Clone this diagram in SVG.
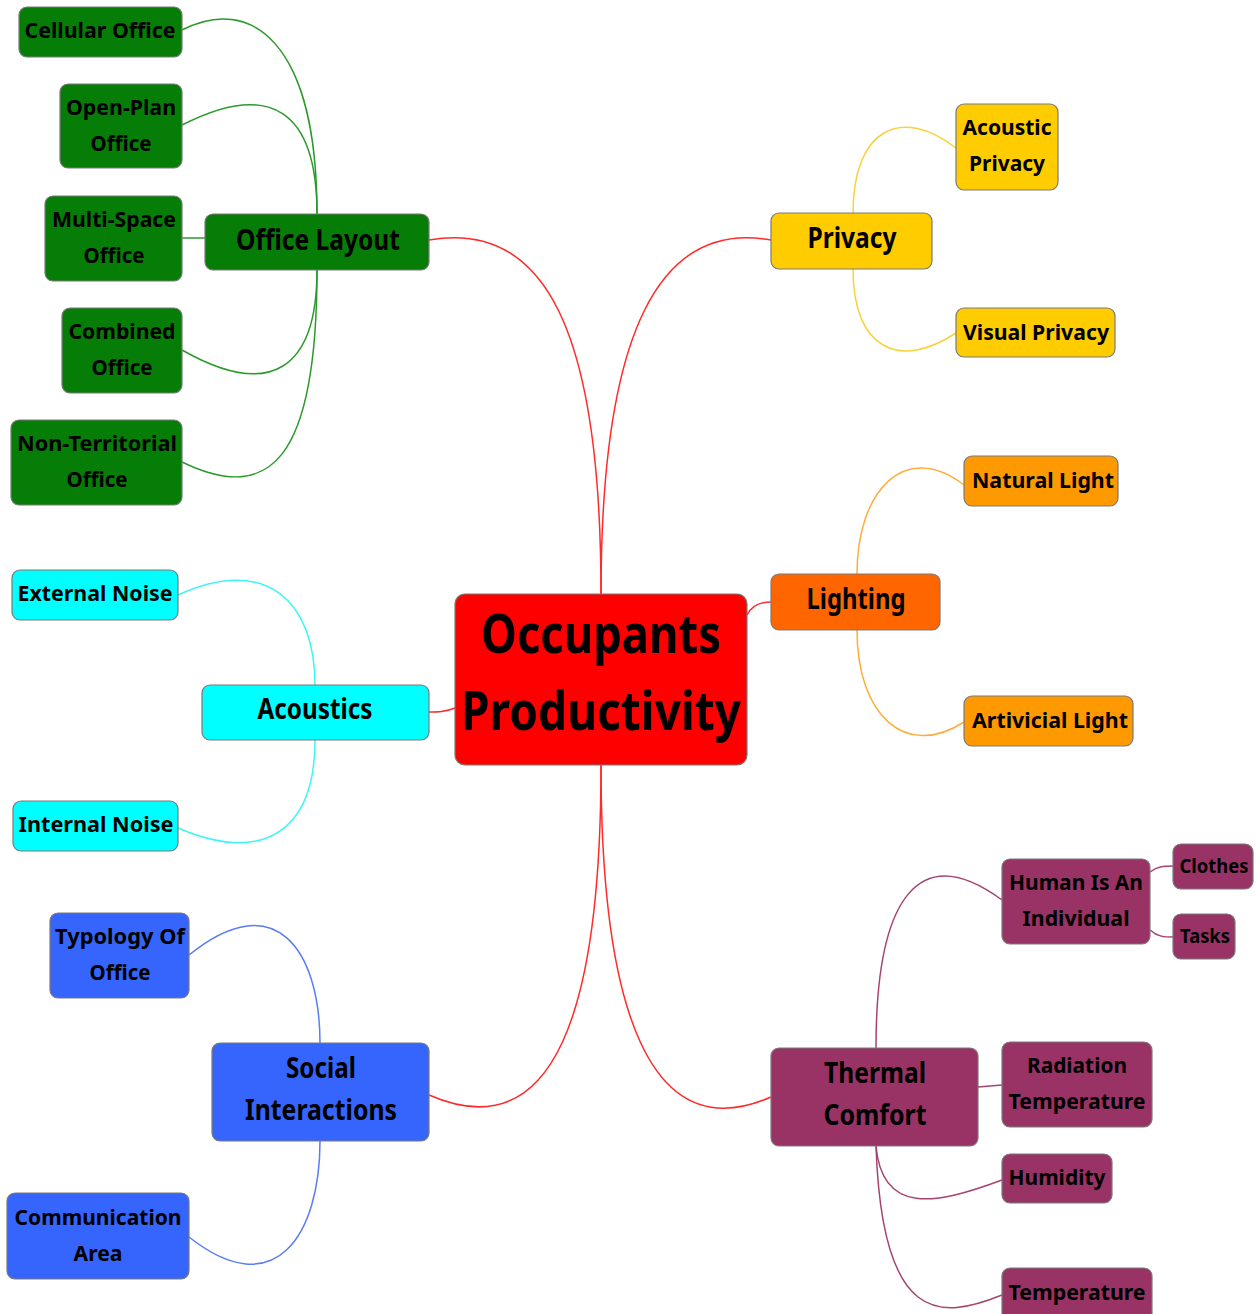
<svg xmlns="http://www.w3.org/2000/svg" width="1256" height="1314" viewBox="0 0 1256 1314">
<style>
text{font-family:"Noto Sans","Open Sans","DejaVu Sans",sans-serif;font-weight:bold;fill:#000;text-anchor:middle}
.s{font-size:22px}
.m{font-size:28px}
.l{font-size:53px}
g rect{stroke:#7a7a7a;stroke-width:1.2}
.g{fill:#067d06}.c{fill:#00ffff}.b{fill:#3565fc}.y{fill:#ffcc00}.o1{fill:#ff6600}.o2{fill:#ff9900}.p{fill:#993366}.r{fill:#ff0000}
#connectors path{fill:none;stroke-width:1.5}
.eg{stroke:#2b9a2b}.ec{stroke:#3cf5f5}.eb{stroke:#5a7cf5}.ey{stroke:#f7d23a}.eo{stroke:#ffad3a}.ep{stroke:#a5446f}.er{stroke:#ff2a2a}
</style>
<rect width="1256" height="1314" fill="#fff"/>
<g id="connectors">
<path class="er" d="M601,594 C601,330 545,220 429,240"/>
<path class="er" d="M601,594 C601,330 660,220 771,240"/>
<path class="er" d="M455,708 C445,712 438,712 429,712"/>
<path class="er" d="M747,615 C752,605 760,602 771,602"/>
<path class="er" d="M601,765 C601,1010 555,1150 429,1095"/>
<path class="er" d="M601,765 C601,1010 650,1150 771,1097"/>
<path class="eg" d="M317,214 C317,40 250,-5 182,30"/>
<path class="eg" d="M317,214 C317,110 270,80 182,125"/>
<path class="eg" d="M182,238 L205,238"/>
<path class="eg" d="M317,270 C317,370 270,400 182,350"/>
<path class="eg" d="M317,270 C317,460 270,505 182,462"/>
<path class="ec" d="M315,685 C315,600 265,555 178,595"/>
<path class="ec" d="M315,740 C315,830 265,865 178,828"/>
<path class="eb" d="M320,1043 C320,950 275,885 189,955"/>
<path class="eb" d="M320,1141 C320,1235 275,1305 189,1237"/>
<path class="ey" d="M853,213 C853,130 900,105 956,148"/>
<path class="ey" d="M853,269 C853,350 900,370 956,333"/>
<path class="eo" d="M857,574 C857,490 905,440 964,485"/>
<path class="eo" d="M857,630 C857,715 905,760 964,722"/>
<path class="ep" d="M876,1048 C876,895 920,840 1002,900"/>
<path class="ep" d="M978,1087 L1002,1085"/>
<path class="ep" d="M876,1146 C882,1215 935,1205 1002,1180"/>
<path class="ep" d="M876,1146 C882,1325 940,1320 1002,1295"/>
<path class="ep" d="M1150,872 C1158,866 1164,866 1173,866"/>
<path class="ep" d="M1150,930 C1158,937 1164,937 1173,937"/>
</g>
<g id="n-center"><rect class="r" x="455" y="594" width="292" height="171" rx="10"/>
<text class="l" x="601" y="653" textLength="240" lengthAdjust="spacingAndGlyphs">Occupants</text>
<text class="l" x="601" y="730" textLength="280" lengthAdjust="spacingAndGlyphs">Productivity</text></g>
<g id="n-officelayout"><rect class="g" x="205" y="214" width="224" height="56" rx="8"/>
<text class="m" x="318" y="250" textLength="164" lengthAdjust="spacingAndGlyphs">Office Layout</text></g>
<g id="n-cellular"><rect class="g" x="19" y="7" width="163" height="50" rx="8"/>
<text class="s" x="100" y="38" textLength="151" lengthAdjust="spacingAndGlyphs">Cellular Office</text></g>
<g id="n-openplan"><rect class="g" x="60" y="84" width="122" height="84" rx="8"/>
<text class="s" x="121" y="115" textLength="110" lengthAdjust="spacingAndGlyphs">Open-Plan</text>
<text class="s" x="121" y="151" textLength="61" lengthAdjust="spacingAndGlyphs">Office</text></g>
<g id="n-multispace"><rect class="g" x="45" y="196" width="137" height="85" rx="8"/>
<text class="s" x="114" y="227" textLength="124" lengthAdjust="spacingAndGlyphs">Multi-Space</text>
<text class="s" x="114" y="263" textLength="61" lengthAdjust="spacingAndGlyphs">Office</text></g>
<g id="n-combined"><rect class="g" x="62" y="308" width="120" height="85" rx="8"/>
<text class="s" x="122" y="339" textLength="107" lengthAdjust="spacingAndGlyphs">Combined</text>
<text class="s" x="122" y="375" textLength="61" lengthAdjust="spacingAndGlyphs">Office</text></g>
<g id="n-nonterritorial"><rect class="g" x="11" y="420" width="171" height="85" rx="8"/>
<text class="s" x="97" y="451" textLength="160" lengthAdjust="spacingAndGlyphs">Non-Territorial</text>
<text class="s" x="97" y="487" textLength="61" lengthAdjust="spacingAndGlyphs">Office</text></g>
<g id="n-acoustics"><rect class="c" x="202" y="685" width="227" height="55" rx="8"/>
<text class="m" x="315" y="719" textLength="115" lengthAdjust="spacingAndGlyphs">Acoustics</text></g>
<g id="n-external"><rect class="c" x="12" y="570" width="166" height="50" rx="8"/>
<text class="s" x="95" y="601" textLength="155" lengthAdjust="spacingAndGlyphs">External Noise</text></g>
<g id="n-internal"><rect class="c" x="13" y="801" width="165" height="50" rx="8"/>
<text class="s" x="96" y="832" textLength="155" lengthAdjust="spacingAndGlyphs">Internal Noise</text></g>
<g id="n-social"><rect class="b" x="212" y="1043" width="217" height="98" rx="8"/>
<text class="m" x="321" y="1078" textLength="70" lengthAdjust="spacingAndGlyphs">Social</text>
<text class="m" x="321" y="1120" textLength="152" lengthAdjust="spacingAndGlyphs">Interactions</text></g>
<g id="n-typology"><rect class="b" x="50" y="913" width="139" height="85" rx="8"/>
<text class="s" x="120" y="944" textLength="130" lengthAdjust="spacingAndGlyphs">Typology Of</text>
<text class="s" x="120" y="980" textLength="61" lengthAdjust="spacingAndGlyphs">Office</text></g>
<g id="n-communication"><rect class="b" x="7" y="1193" width="182" height="86" rx="8"/>
<text class="s" x="98" y="1225" textLength="167" lengthAdjust="spacingAndGlyphs">Communication</text>
<text class="s" x="98" y="1261" textLength="49" lengthAdjust="spacingAndGlyphs">Area</text></g>
<g id="n-privacy"><rect class="y" x="771" y="213" width="161" height="56" rx="8"/>
<text class="m" x="852" y="248" textLength="89" lengthAdjust="spacingAndGlyphs">Privacy</text></g>
<g id="n-acousticprivacy"><rect class="y" x="956" y="104" width="102" height="86" rx="8"/>
<text class="s" x="1007" y="135" textLength="89" lengthAdjust="spacingAndGlyphs">Acoustic</text>
<text class="s" x="1007" y="171" textLength="76" lengthAdjust="spacingAndGlyphs">Privacy</text></g>
<g id="n-visualprivacy"><rect class="y" x="956" y="308" width="159" height="49" rx="8"/>
<text class="s" x="1036" y="340" textLength="146" lengthAdjust="spacingAndGlyphs">Visual Privacy</text></g>
<g id="n-lighting"><rect class="o1" x="771" y="574" width="169" height="56" rx="8"/>
<text class="m" x="856" y="609" textLength="99" lengthAdjust="spacingAndGlyphs">Lighting</text></g>
<g id="n-natural"><rect class="o2" x="964" y="456" width="154" height="50" rx="8"/>
<text class="s" x="1043" y="488" textLength="142" lengthAdjust="spacingAndGlyphs">Natural Light</text></g>
<g id="n-artificial"><rect class="o2" x="964" y="696" width="169" height="50" rx="8"/>
<text class="s" x="1050" y="728" textLength="156" lengthAdjust="spacingAndGlyphs">Artivicial Light</text></g>
<g id="n-thermal"><rect class="p" x="771" y="1048" width="207" height="98" rx="8"/>
<text class="m" x="875" y="1083" textLength="102" lengthAdjust="spacingAndGlyphs">Thermal</text>
<text class="m" x="875" y="1125" textLength="103" lengthAdjust="spacingAndGlyphs">Comfort</text></g>
<g id="n-human"><rect class="p" x="1002" y="859" width="148" height="85" rx="8"/>
<text class="s" x="1076" y="890" textLength="134" lengthAdjust="spacingAndGlyphs">Human Is An</text>
<text class="s" x="1076" y="926" textLength="107" lengthAdjust="spacingAndGlyphs">Individual</text></g>
<g id="n-clothes"><rect class="p" x="1173" y="844" width="80" height="45" rx="8"/>
<text class="s" x="1214" y="873" textLength="69" lengthAdjust="spacingAndGlyphs" style="font-size:20px">Clothes</text></g>
<g id="n-tasks"><rect class="p" x="1173" y="914" width="62" height="45" rx="8"/>
<text class="s" x="1205" y="943" textLength="50" lengthAdjust="spacingAndGlyphs" style="font-size:20px">Tasks</text></g>
<g id="n-radiation"><rect class="p" x="1002" y="1042" width="150" height="85" rx="8"/>
<text class="s" x="1077" y="1073" textLength="100" lengthAdjust="spacingAndGlyphs">Radiation</text>
<text class="s" x="1077" y="1109" textLength="137" lengthAdjust="spacingAndGlyphs">Temperature</text></g>
<g id="n-humidity"><rect class="p" x="1002" y="1154" width="110" height="49" rx="8"/>
<text class="s" x="1057" y="1185" textLength="97" lengthAdjust="spacingAndGlyphs">Humidity</text></g>
<g id="n-temperature"><rect class="p" x="1002" y="1268" width="150" height="60" rx="8"/>
<text class="s" x="1077" y="1300" textLength="137" lengthAdjust="spacingAndGlyphs">Temperature</text></g>
</svg>
